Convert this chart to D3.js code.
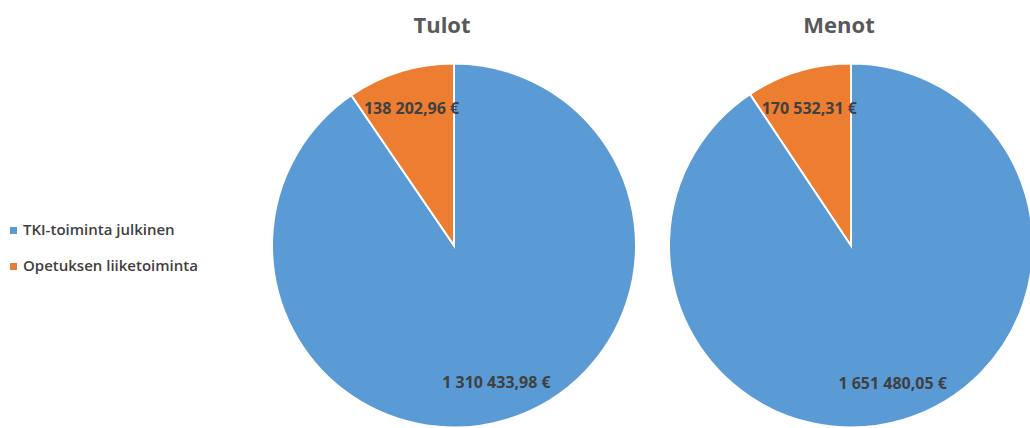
<!DOCTYPE html>
<html>
<head>
<meta charset="utf-8">
<script src="https://cdn.jsdelivr.net/npm/d3@7"></script>
<style>
	body { margin: 0; background: #fff; }
	text { font-family: "Open Sans", Lato, sans-serif; }
</style>
</head>
<body>
<svg id="chart" width="1030" height="428"></svg>
<script>
"use strict";

var categories = ["TKI-toiminta julkinen", "Opetuksen liiketoiminta"];
var charts = ["Tulot", "Menot"];
var tulotValues = [1310433.98, 138202.96];
var menotValues = [1651480.05, 170532.31];
var colors = ["#5B9BD5", "#ED7D31"];

var svg = d3.select("#chart"),
	radius = 182,
	centers = [454, 851],
	cy = 245.5;

var color = d3.scaleOrdinal().domain(categories).range(colors);

var fmt = function (v) {
	var s = v.toFixed(2).split("."),
		whole = s[0].replace(/\B(?=(\d{3})+(?!\d))/g, " ");
	return whole + "," + s[1] + " €";
};

var pie = d3.pie().sort(null).value(function (d) { return d.value; }),
	arc = d3.arc().innerRadius(0).outerRadius(radius),
	labelArc = d3.arc().innerRadius(radius * 0.79).outerRadius(radius * 0.79);

/**
 * Draw one pie with its title and value labels
 */
var drawPie = function (title, values, cx) {
	var data = categories.map(function (c, i) { return { name: c, value: values[i] }; });
	var g = svg.append("g").attr("transform", "translate(" + cx + "," + cy + ")");

	g.selectAll("path")
		.data(pie(data))
		.enter().append("path")
		.attr("d", arc)
		.attr("fill", function (d) { return color(d.data.name); })
		.attr("stroke", "#fff")
		.attr("stroke-width", 2);

	g.selectAll("text.lbl")
		.data(pie(data))
		.enter().append("text")
		.attr("class", "lbl")
		.attr("transform", function (d) { return "translate(" + labelArc.centroid(d) + ")"; })
		.attr("text-anchor", "middle")
		.attr("dy", "0.35em")
		.attr("font-size", "16px")
		.attr("font-weight", "bold")
		.attr("fill", "#404040")
		.text(function (d) { return fmt(d.data.value); });

	svg.append("text")
		.attr("x", cx - 12)
		.attr("y", 33)
		.attr("text-anchor", "middle")
		.attr("font-size", "22px")
		.attr("font-weight", "bold")
		.attr("fill", "#595959")
		.text(title);
};

drawPie(charts[0], tulotValues, centers[0]);
drawPie(charts[1], menotValues, centers[1]);

// legend
var legend = svg.append("g").attr("transform", "translate(10,235)");
var items = legend.selectAll("g")
	.data(categories)
	.enter().append("g")
	.attr("transform", function (d, i) { return "translate(0," + i * 36 + ")"; });

items.append("rect")
	.attr("x", 0)
	.attr("y", -8)
	.attr("width", 7)
	.attr("height", 7)
	.attr("fill", function (d) { return color(d); });

items.append("text")
	.attr("x", 13)
	.attr("y", 0)
	.attr("font-size", "15px")
	.attr("font-weight", "600")
	.attr("fill", "#404040")
	.text(function (d) { return d; });
</script>
</body>
</html>
